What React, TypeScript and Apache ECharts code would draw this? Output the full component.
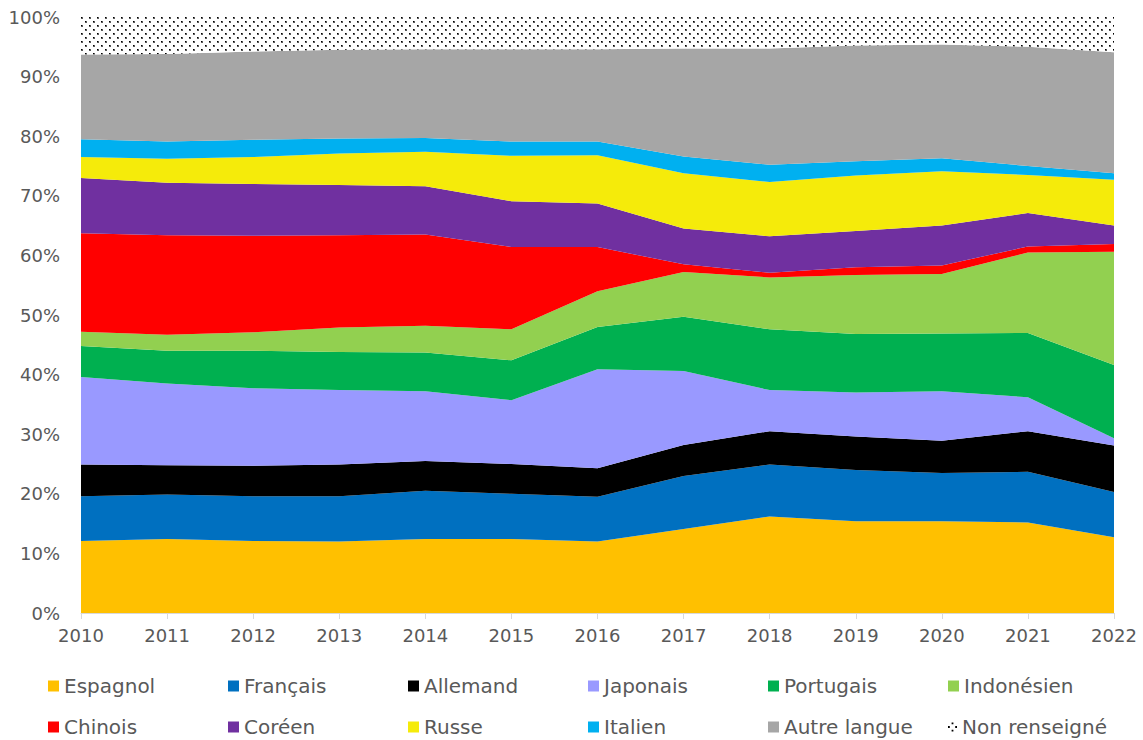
import React, { useEffect, useRef } from "react";
import * as echarts from "echarts";

const years = ["2010", "2011", "2012", "2013", "2014", "2015", "2016", "2017", "2018", "2019", "2020", "2021", "2022"];

const espagnol = [12.1, 12.4, 12.1, 12.0, 12.4, 12.4, 12.0, 14.1, 16.2, 15.4, 15.4, 15.2, 12.7];
const francais = [7.5, 7.5, 7.5, 7.6, 8.1, 7.6, 7.5, 8.9, 8.7, 8.6, 8.1, 8.5, 7.6];
const allemand = [5.3, 4.9, 5.1, 5.3, 5.0, 5.0, 4.8, 5.2, 5.6, 5.6, 5.4, 6.8, 7.8];
const japonais = [14.7, 13.7, 13.0, 12.5, 11.7, 10.7, 16.6, 12.4, 6.9, 7.4, 8.3, 5.7, 1.2];
const portugais = [5.2, 5.5, 6.3, 6.4, 6.5, 6.7, 7.1, 9.1, 10.2, 9.8, 9.7, 10.8, 12.3];
const indonesien = [2.4, 2.7, 3.1, 4.1, 4.5, 5.2, 6.0, 7.5, 8.7, 9.9, 10.0, 13.5, 19.0];
const chinois = [16.5, 16.7, 16.2, 15.5, 15.3, 13.8, 7.4, 1.3, 0.8, 1.3, 1.4, 1.0, 1.3];
const coreen = [9.3, 8.8, 8.7, 8.4, 8.1, 7.7, 7.3, 6.0, 6.1, 6.1, 6.7, 5.6, 3.1];
const russe = [3.5, 4.0, 4.5, 5.3, 5.8, 7.6, 8.1, 9.3, 9.1, 9.3, 9.1, 6.4, 7.7];
const italien = [3.0, 2.9, 2.9, 2.5, 2.3, 2.4, 2.3, 2.8, 2.9, 2.4, 2.2, 1.5, 1.1];
const autre = [14.2, 14.7, 14.8, 14.9, 14.9, 15.5, 15.5, 18.1, 19.5, 19.4, 19.1, 20.0, 20.3];
const nonRenseigne = [6.3, 6.2, 5.8, 5.5, 5.4, 5.4, 5.4, 5.3, 5.3, 4.8, 4.6, 5.0, 5.9];

const yTicks = { min: 0, max: 100, interval: 10 };

const seriesDefs = [
  { name: "Espagnol", data: espagnol, color: "#FFC000" },
  { name: "Français", data: francais, color: "#0070C0" },
  { name: "Allemand", data: allemand, color: "#000000" },
  { name: "Japonais", data: japonais, color: "#9999FF" },
  { name: "Portugais", data: portugais, color: "#00B050" },
  { name: "Indonésien", data: indonesien, color: "#92D050" },
  { name: "Chinois", data: chinois, color: "#FF0000" },
  { name: "Coréen", data: coreen, color: "#7030A0" },
  { name: "Russe", data: russe, color: "#F5EB0A" },
  { name: "Italien", data: italien, color: "#00B0F0" },
  { name: "Autre langue", data: autre, color: "#A6A6A6" },
  { name: "Non renseigné", data: nonRenseigne, color: null as any },
];

const legendOrder = [
  ["Espagnol", "Français", "Allemand", "Japonais", "Portugais", "Indonésien"],
  ["Chinois", "Coréen", "Russe", "Italien", "Autre langue", "Non renseigné"],
];

function makePattern() {
  const c = document.createElement("canvas");
  c.width = 8;
  c.height = 8;
  const ctx = c.getContext("2d")!;
  ctx.fillStyle = "#ffffff";
  ctx.fillRect(0, 0, 8, 8);
  ctx.fillStyle = "#5a5a5a";
  ctx.fillRect(1, 1, 2, 2);
  ctx.fillRect(5, 5, 2, 2);
  ctx.fillStyle = "#000000";
  ctx.fillRect(1, 1, 1, 1);
  ctx.fillRect(5, 5, 1, 1);
  return { image: c.toDataURL(), repeat: "repeat", imageWidth: 8, imageHeight: 8 };
}

export default function App() {
  const ref = useRef<HTMLDivElement>(null);

  useEffect(() => {
    if (!ref.current) return;
    const chart = echarts.init(ref.current, null, { renderer: "svg" });
    const pattern = makePattern();
    const font = "'DejaVu Sans', sans-serif";

    const series = seriesDefs.map((s) => ({
      name: s.name,
      type: "line",
      stack: "total",
      data: s.data,
      symbol: "none",
      showSymbol: false,
      lineStyle: { width: 0 },
      areaStyle: { opacity: 1, color: s.color ?? (pattern as any) },
      itemStyle: { color: s.color ?? "#000000" },
      emphasis: { disabled: true },
    }));

    const legends: any[] = [];
    legendOrder.forEach((row, r) => {
      row.forEach((name, c) => {
        const isNR = name === "Non renseigné";
        legends.push({
          data: [
            isNR
              ? {
                  name,
                  icon: "path://M4,0h2v2h-2z M0,4h2v2h-2z M8,4h2v2h-2z M4,8h2v2h-2z",
                  itemStyle: { color: "#000000" },
                }
              : { name, icon: "rect" },
          ],
          left: 48 + 180 * c,
          top: r === 0 ? 676 : 717,
          padding: 0,
          itemWidth: isNR ? 9 : 11,
          itemHeight: isNR ? 9 : 11,
          selectedMode: false,
          textStyle: { fontFamily: font, fontSize: 20, color: "#595959" },
        });
      });
    });

    chart.setOption({
      animation: false,
      grid: { left: 81, right: 29, top: 17, bottom: 127, containLabel: false },
      legend: legends,
      xAxis: {
        type: "category",
        data: years,
        boundaryGap: false,
        axisLine: { show: true, lineStyle: { color: "#D9D9D9", width: 1 } },
        axisTick: { show: true, length: 6, lineStyle: { color: "#D9D9D9" } },
        axisLabel: { margin: 13, fontFamily: font, fontSize: 18, color: "#595959" },
        splitLine: { show: false },
      },
      yAxis: {
        type: "value",
        min: yTicks.min,
        max: yTicks.max,
        interval: yTicks.interval,
        axisLine: { show: false },
        axisTick: { show: false },
        axisLabel: { margin: 21, formatter: "{value}%", fontFamily: font, fontSize: 18, color: "#595959" },
        splitLine: { show: true, lineStyle: { color: "#E6E6E6" } },
      },
      series,
    });

    return () => chart.dispose();
  }, []);

  return (
    <div
      ref={ref}
      style={{ position: "fixed", left: 0, top: 0, width: 1143, height: 740, background: "#ffffff" }}
    />
  );
}
